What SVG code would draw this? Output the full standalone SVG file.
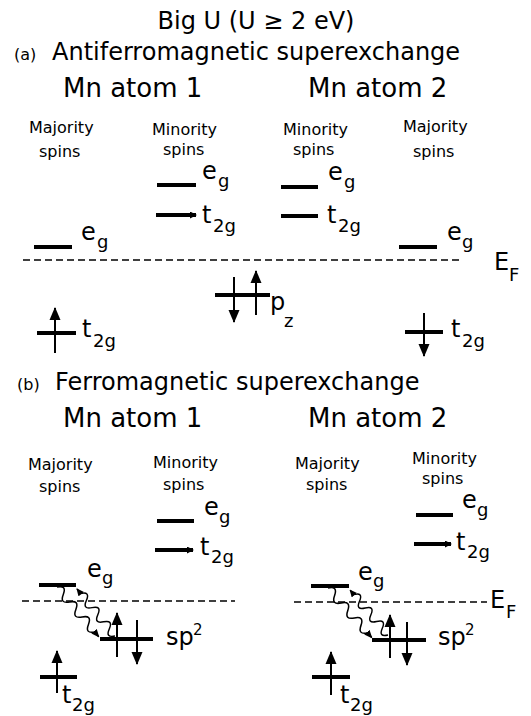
<svg xmlns="http://www.w3.org/2000/svg" width="531" height="716" viewBox="0 0 531 716">
<style>
text{font-family:"DejaVu Sans","Liberation Sans",sans-serif;fill:#000}
.t24{font-size:24px}
.t26{font-size:26px}
.t16{font-size:16px}
.lab{font-size:24px}
.sub{font-size:18px}
.sup{font-size:15px}
.lvl{stroke:#000;stroke-width:4;fill:none}
.spin{stroke:#000;stroke-width:2;fill:none}
.ef{stroke:#000;stroke-width:1.5;stroke-dasharray:7 4;fill:none}
.wave{stroke:#000;stroke-width:1.5;fill:none}
</style>
<defs>
<marker id="ah" viewBox="0 0 13 12" refX="12" refY="6" markerWidth="13" markerHeight="12" orient="auto" markerUnits="userSpaceOnUse">
<path d="M0,0.5 L13,6 L0,11.5 Z" fill="#000"/>
</marker>
<marker id="tip" viewBox="0 0 7 7" refX="6" refY="3.5" markerWidth="7" markerHeight="7" orient="auto" markerUnits="userSpaceOnUse">
<path d="M0,0 L7,3.5 L0,7 Z" fill="#000"/>
</marker>
<marker id="wh" viewBox="0 0 8 7" refX="7" refY="3.5" markerWidth="8" markerHeight="7" orient="auto" markerUnits="userSpaceOnUse">
<path d="M0,0 L8,3.5 L0,7 Z" fill="#000"/>
</marker>
<path id="wv" d="M0,0 q4.75,-9 9.5,0 t9.5,0 t9.5,0 t9.5,0 t9.5,0 t9.5,0 l6,0"/>
</defs>
<rect width="531" height="716" fill="#fff"/>

<g id="title">
<text class="t24" x="256" y="29" text-anchor="middle">Big U (U ≥ 2 eV)</text>
</g>

<!-- Section (a) -->
<g id="a-header">
<text class="t16" x="14" y="60">(a)</text>
<text class="t24" x="52" y="60">Antiferromagnetic superexchange</text>
<text class="t26" x="63" y="97">Mn atom 1</text>
<text class="t26" x="308" y="97">Mn atom 2</text>
<text class="t16" x="29" y="133">Majority</text>
<text class="t16" x="39" y="157">spins</text>
<text class="t16" x="152" y="135">Minority</text>
<text class="t16" x="163" y="155">spins</text>
<text class="t16" x="283" y="135">Minority</text>
<text class="t16" x="293" y="155">spins</text>
<text class="t16" x="403" y="132">Majority</text>
<text class="t16" x="413" y="157">spins</text>
</g>

<g id="a-min1-eg">
<line class="lvl" x1="157" y1="185" x2="196" y2="185"/>
<text class="lab" x="202" y="179">e</text><text class="sub" x="218" y="187">g</text>
</g>
<g id="a-min1-t2g">
<line class="lvl" x1="156" y1="215" x2="196" y2="215" marker-end="url(#tip)"/>
<text class="lab" x="202" y="223">t</text><text class="sub" x="213" y="232">2g</text>
</g>
<g id="a-min2-eg">
<line class="lvl" x1="281" y1="187" x2="318" y2="187"/>
<text class="lab" x="328" y="180">e</text><text class="sub" x="344" y="188">g</text>
</g>
<g id="a-min2-t2g">
<line class="lvl" x1="281" y1="216" x2="318" y2="216"/>
<text class="lab" x="327" y="223">t</text><text class="sub" x="338" y="232">2g</text>
</g>
<g id="a-maj1-eg">
<line class="lvl" x1="34" y1="247" x2="72" y2="247"/>
<text class="lab" x="81" y="240">e</text><text class="sub" x="97" y="248">g</text>
</g>
<g id="a-maj2-eg">
<line class="lvl" x1="399" y1="247" x2="437" y2="247"/>
<text class="lab" x="447" y="240">e</text><text class="sub" x="462" y="248">g</text>
</g>
<g id="a-ef">
<line class="ef" x1="23" y1="260" x2="462" y2="260"/>
<text class="lab" x="494" y="270">E</text><text class="sub" x="509" y="281">F</text>
</g>
<g id="a-pz">
<line class="lvl" x1="215" y1="295" x2="270" y2="295"/>
<line class="spin" x1="234" y1="277" x2="234" y2="322" marker-end="url(#ah)"/>
<line class="spin" x1="256" y1="315" x2="256" y2="271" marker-end="url(#ah)"/>
<text class="lab" x="270" y="310">p</text><text class="sub" x="284" y="327">z</text>
</g>
<g id="a-maj1-t2g">
<line class="lvl" x1="37" y1="333" x2="76" y2="333"/>
<line class="spin" x1="55" y1="353" x2="55" y2="308" marker-end="url(#ah)"/>
<text class="lab" x="82" y="337">t</text><text class="sub" x="93" y="347">2g</text>
</g>
<g id="a-maj2-t2g">
<line class="lvl" x1="405" y1="332" x2="443" y2="332"/>
<line class="spin" x1="424" y1="313" x2="424" y2="356" marker-end="url(#ah)"/>
<text class="lab" x="451" y="337">t</text><text class="sub" x="462" y="347">2g</text>
</g>

<!-- Section (b) -->
<g id="b-header">
<text class="t16" x="17" y="390">(b)</text>
<text class="t24" x="55" y="390">Ferromagnetic superexchange</text>
<text class="t26" x="63" y="427">Mn atom 1</text>
<text class="t26" x="308" y="427">Mn atom 2</text>
<text class="t16" x="28" y="470">Majority</text>
<text class="t16" x="39" y="492">spins</text>
<text class="t16" x="153" y="468">Minority</text>
<text class="t16" x="163" y="490">spins</text>
<text class="t16" x="295" y="469">Majority</text>
<text class="t16" x="306" y="490">spins</text>
<text class="t16" x="412" y="464">Minority</text>
<text class="t16" x="422" y="484">spins</text>
</g>

<g id="b-min1-eg">
<line class="lvl" x1="157" y1="521" x2="194" y2="521"/>
<text class="lab" x="204" y="515">e</text><text class="sub" x="219" y="523">g</text>
</g>
<g id="b-min1-t2g">
<line class="lvl" x1="155" y1="550" x2="193" y2="550" marker-end="url(#tip)"/>
<text class="lab" x="200" y="555">t</text><text class="sub" x="211" y="563">2g</text>
</g>
<g id="b-maj1-eg">
<line class="lvl" x1="39" y1="585" x2="76" y2="585"/>
<text class="lab" x="87" y="577">e</text><text class="sub" x="102" y="584">g</text>
</g>
<g id="b-ef1">
<line class="ef" x1="22" y1="601" x2="235" y2="601"/>
</g>
<g id="b-sp2-1">
<line class="lvl" x1="100" y1="639" x2="153" y2="639"/>
<line class="spin" x1="117" y1="657" x2="117" y2="613" marker-end="url(#ah)"/>
<line class="spin" x1="137" y1="620" x2="137" y2="664" marker-end="url(#ah)"/>
<text class="lab" x="166" y="645">sp</text><text class="sup" x="193" y="635">2</text>
</g>
<g id="b-maj1-t2g">
<line class="lvl" x1="40" y1="677" x2="77" y2="677"/>
<line class="spin" x1="57" y1="693" x2="57" y2="651" marker-end="url(#ah)"/>
<text class="lab" x="62" y="703">t</text><text class="sub" x="72" y="711">2g</text>
</g>

<g id="b-min2-eg">
<line class="lvl" x1="416" y1="515" x2="453" y2="515"/>
<text class="lab" x="462" y="508">e</text><text class="sub" x="477" y="516">g</text>
</g>
<g id="b-min2-t2g">
<line class="lvl" x1="414" y1="544" x2="451" y2="544" marker-end="url(#tip)"/>
<text class="lab" x="456" y="550">t</text><text class="sub" x="467" y="558">2g</text>
</g>
<g id="b-maj2-eg">
<line class="lvl" x1="311" y1="586" x2="349" y2="586"/>
<text class="lab" x="358" y="580">e</text><text class="sub" x="373" y="587">g</text>
</g>
<g id="b-ef2">
<line class="ef" x1="294" y1="602" x2="487" y2="602"/>
<text class="lab" x="490" y="608">E</text><text class="sub" x="506" y="618">F</text>
</g>
<g id="b-sp2-2">
<line class="lvl" x1="372" y1="640" x2="426" y2="640"/>
<line class="spin" x1="390" y1="658" x2="390" y2="615" marker-end="url(#ah)"/>
<line class="spin" x1="407" y1="622" x2="407" y2="665" marker-end="url(#ah)"/>
<text class="lab" x="438" y="645">sp</text><text class="sup" x="465" y="635">2</text>
</g>
<g id="b-maj2-t2g">
<line class="lvl" x1="312" y1="677" x2="350" y2="677"/>
<line class="spin" x1="331" y1="695" x2="331" y2="652" marker-end="url(#ah)"/>
<text class="lab" x="340" y="703">t</text><text class="sub" x="350" y="711">2g</text>
</g>

<g id="connectors">
<use href="#wv" class="wave" marker-end="url(#wh)" transform="translate(57,587) rotate(50) scale(1.03,1)"/>
<use href="#wv" class="wave" marker-end="url(#wh)" transform="translate(115,636) rotate(-128.9) scale(0.96,1)"/>
<use href="#wv" class="wave" marker-end="url(#wh)" transform="translate(328,588) rotate(48.6) scale(1.05,1)"/>
<use href="#wv" class="wave" marker-end="url(#wh)" transform="translate(388,635) rotate(-130.2) scale(0.93,1)"/>
</g>
</svg>
